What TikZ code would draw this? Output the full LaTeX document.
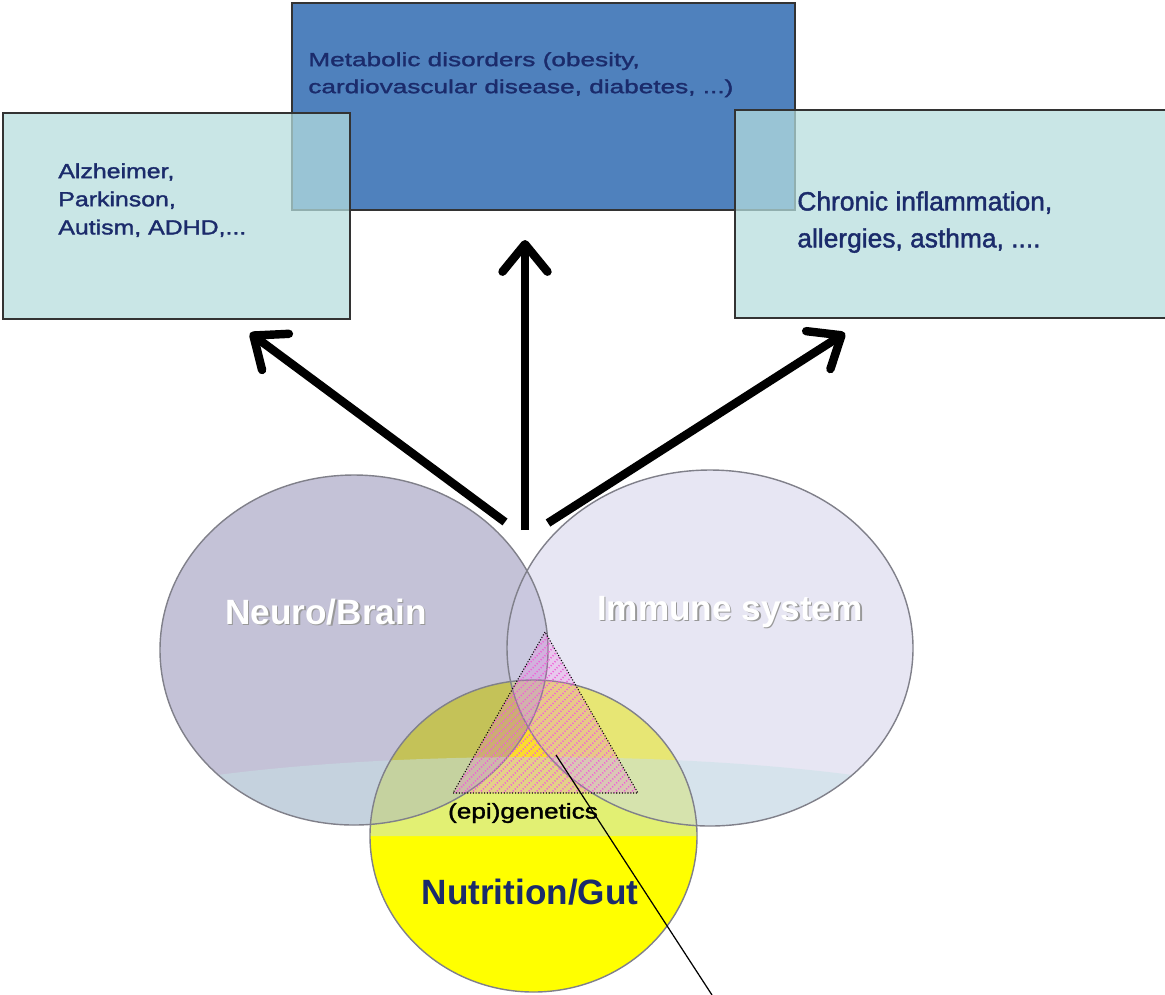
\documentclass[tikz,border=0pt]{standalone}
\usepackage{fontspec}
\setmainfont{Liberation Sans}
\newfontfamily\boxfont[FakeBold=1.6]{Liberation Sans}
\newfontfamily\widefont[FakeStretch=1.38,FakeBold=1.6]{Liberation Sans}
\newfontfamily\semiwidefont[FakeStretch=1.22,FakeBold=1.6]{Liberation Sans}
\usepackage{tikz}
\usetikzlibrary{calc}
\usetikzlibrary{arrows.meta}
\usetikzlibrary{patterns.meta}

\definecolor{metablue}{HTML}{4F81BD}
\definecolor{sidecyan}{HTML}{B5DEDE}
\definecolor{navytext}{HTML}{1B2B6B}
\definecolor{neurofill}{HTML}{8B87B0}
\definecolor{immunefill}{HTML}{D0CEE8}
\definecolor{glossband}{HTML}{C6E2E6}
\definecolor{gutyellow}{HTML}{FFFF00}
\definecolor{rimgray}{HTML}{80808A}
\definecolor{hatchpink}{HTML}{F060D8}

\tikzset{
  diseasebox/.style={draw=black!80, line width=1pt, inner sep=0pt, outer sep=0pt},
  boxtext/.style={anchor=north west, inner sep=0pt, align=left, text=navytext},
  bigarrow/.style={line width=4.8pt, -{Straight Barb[round,length=5.5mm,width=9mm]}},
  rim/.style={draw=rimgray, line width=0.8pt},
  whitelabel/.style={text=white, font=\fontsize{20}{24}\selectfont\bfseries},
  shadelabel/.style={text=black!40, font=\fontsize{20}{24}\selectfont\bfseries},
}

\begin{document}
\begin{tikzpicture}
\clip (0,0) rectangle (23.3,-19.88);
\fill [white] (0,0) rectangle (23.3,-19.88);
% disease boxes
\node [diseasebox, fill=metablue, minimum width=10.06cm, minimum height=4.14cm] (metabox) at (10.87,-2.13) {};
\node [boxtext, font=\widefont\fontsize{10.8}{15.4}\selectfont] (metatext) at (6.16,-1.04)
  {Metabolic disorders (obesity,\\cardiovascular disease, diabetes, ...)};
\node [diseasebox, fill=sidecyan, fill opacity=0.73, minimum width=6.94cm, minimum height=4.12cm] (neurobox) at (3.53,-4.32) {};
\node [boxtext, font=\semiwidefont\fontsize{11.6}{16}\selectfont] (neurotext) at (1.16,-3.26)
  {Alzheimer,\\Parkinson,\\Autism, ADHD,...};
\node [diseasebox, fill=sidecyan, fill opacity=0.73, minimum width=8.8cm, minimum height=4.16cm] (immunebox) at (19.1,-4.28) {};
\node [boxtext, font=\boxfont\fontsize{15}{21}\selectfont] (immunetext) at (15.94,-3.82)
  {Chronic inflammation,\\allergies, asthma, ....};
% spheres
\fill [gutyellow] (10.67,-16.72) ellipse [x radius=3.27, y radius=3.12];
\fill [neurofill, fill opacity=0.5] (7.08,-13.0) ellipse [x radius=3.88, y radius=3.5];
\fill [immunefill, fill opacity=0.5] (14.2,-12.96) ellipse [x radius=4.06, y radius=3.56];
% gloss band
\begin{scope}
\clip (10.67,-16.72) ellipse [x radius=3.27, y radius=3.12]
      (7.08,-13.0) ellipse [x radius=3.88, y radius=3.5]
      (14.2,-12.96) ellipse [x radius=4.06, y radius=3.56];
\fill [glossband, fill opacity=0.5] (0.7,-16.72) arc [start angle=180, end angle=0, x radius=10, y radius=1.58] -- cycle;
\end{scope}
\draw [rim] (10.67,-16.72) ellipse [x radius=3.27, y radius=3.12];
\draw [rim] (7.08,-13.0) ellipse [x radius=3.88, y radius=3.5];
\draw [rim] (14.2,-12.96) ellipse [x radius=4.06, y radius=3.56];
% epigenetics triangle
\coordinate (apex) at (10.9,-12.64);
\coordinate (baseL) at (9.06,-15.86);
\coordinate (baseR) at (12.76,-15.86);
\fill [hatchpink, fill opacity=0.22] (apex) -- (baseL) -- (baseR) -- cycle;
\draw [densely dotted, line width=0.6pt, pattern={Lines[angle=45, distance=3.2pt, line width=0.9pt]}, pattern color=hatchpink] (apex) -- (baseL) -- (baseR) -- cycle;
% labels
\node [shadelabel] (neurosh) at (6.55,-12.27) {Neuro/Brain};
\node [whitelabel] (neurolbl) at (6.52,-12.24) {Neuro/Brain};
\node [shadelabel] (immunesh) at (14.63,-12.27) {Immune system};
\node [whitelabel] (immunelbl) at (14.6,-12.24) {Immune system};
\node [font=\semiwidefont\fontsize{12.2}{14}\selectfont] (epilbl) at (10.46,-16.26) {(epi)genetics};
\node [text=navytext, font=\fontsize{20}{24}\selectfont\bfseries] (gutlbl) at (10.6,-17.84) {Nutrition/Gut};
% arrows
\coordinate (tailL) at (10.1,-10.44);
\coordinate (tailM) at (10.5,-10.6);
\coordinate (tailR) at (10.96,-10.46);
\coordinate (tipL) at (5.0,-6.66);
\coordinate (tipM) at (10.5,-4.8);
\coordinate (tipR) at (16.9,-6.66);
\draw [bigarrow] (tailL) -- (tipL);
\draw [bigarrow] (tailM) -- (tipM);
\draw [bigarrow] (tailR) -- (tipR);
% pointer
\coordinate (pin) at (11.12,-15.1);
\coordinate (pinfoot) at (14.24,-19.9);
\draw [line width=0.7pt] (pin) -- (pinfoot);
\end{tikzpicture}
\end{document}
